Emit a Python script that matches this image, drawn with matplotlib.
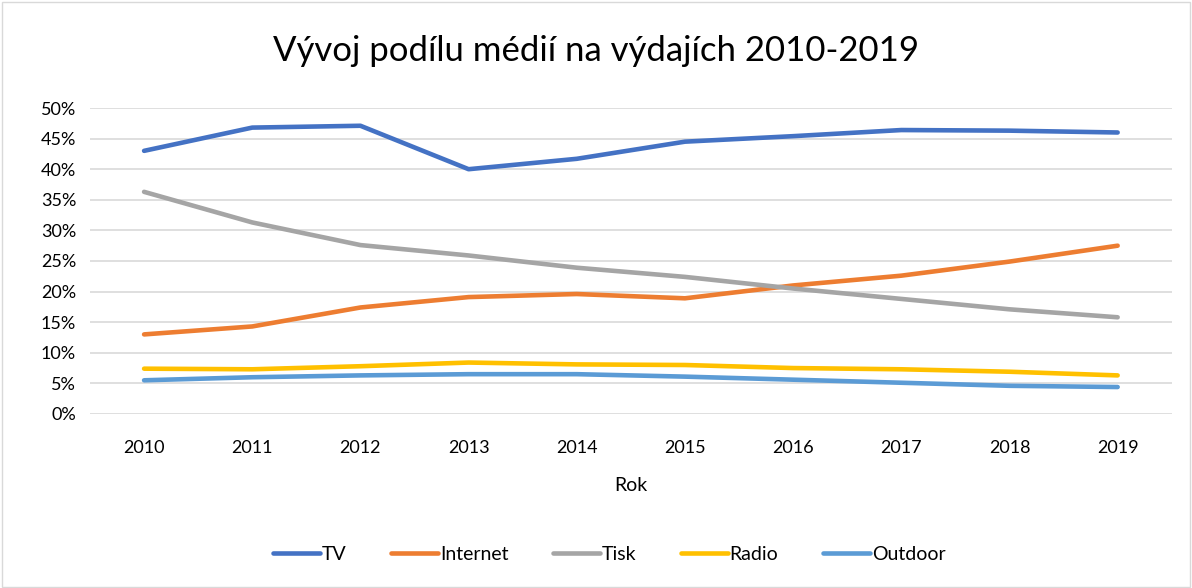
"""Line chart: media share of advertising spend 2010-2019."""

import matplotlib

matplotlib.use("Agg", force=True)

import matplotlib.pyplot as plt
from matplotlib.patches import Rectangle
from matplotlib.ticker import PercentFormatter

years = ["2010", "2011", "2012", "2013", "2014", "2015", "2016", "2017", "2018", "2019"]
tv = [43.0, 46.8, 47.1, 40.0, 41.7, 44.5, 45.4, 46.4, 46.3, 46.0]
internet = [13.0, 14.3, 17.4, 19.1, 19.6, 18.9, 21.0, 22.6, 24.9, 27.5]
tisk = [36.3, 31.3, 27.6, 25.9, 23.9, 22.4, 20.5, 18.8, 17.1, 15.8]
radio = [7.4, 7.3, 7.8, 8.4, 8.1, 8.0, 7.5, 7.3, 6.9, 6.3]
outdoor = [5.5, 6.0, 6.3, 6.5, 6.5, 6.1, 5.6, 5.1, 4.6, 4.4]

series = [
	("TV", tv, "#4472C4"),
	("Internet", internet, "#ED7D31"),
	("Tisk", tisk, "#A5A5A5"),
	("Radio", radio, "#FFC000"),
	("Outdoor", outdoor, "#5B9BD5"),
]

plt.rcParams["font.family"] = ["Lato", "DejaVu Sans"]

fig = plt.figure(figsize=(11.92, 5.88), dpi=100)
fig.patches.append(
	Rectangle((0.002, 0.002), 0.996, 0.995, transform=fig.transFigure,
			  fill=False, edgecolor="#d9d9d9", linewidth=1.0)
)
ax = fig.add_axes([0.0755, 0.296, 0.9075, 0.5203])

x = range(len(years))
for label, values, color in series:
	ax.plot(x, values, color=color, linewidth=3.3, label=label,
			solid_capstyle="round", solid_joinstyle="round")

ax.set_xlim(-0.5, len(years) - 0.5)
ax.set_ylim(0, 50)
ax.set_yticks(range(0, 51, 5))
ax.yaxis.set_major_formatter(PercentFormatter(decimals=0))
ax.set_xticks(list(x))
ax.set_xticklabels(years)
ax.grid(axis="y", color="#d9d9d9", linewidth=1.2)
ax.set_axisbelow(True)
for spine in ax.spines.values():
	spine.set_visible(False)
ax.tick_params(axis="both", length=0, labelsize=13, colors="#000000")
ax.tick_params(axis="x", pad=19)
ax.tick_params(axis="y", pad=10)

ax.set_xlabel("Rok", fontsize=14, labelpad=15)
fig.suptitle("Vývoj podílu médií na výdajích 2010-2019", fontsize=25, y=0.94)

ax.legend(loc="center", bbox_to_anchor=(0.48, -0.46), ncol=5, frameon=False,
		  fontsize=14, handlelength=2.4, handletextpad=0.1, columnspacing=2.3)

fig.savefig("out.png", dpi=100)
plt.close(fig)
